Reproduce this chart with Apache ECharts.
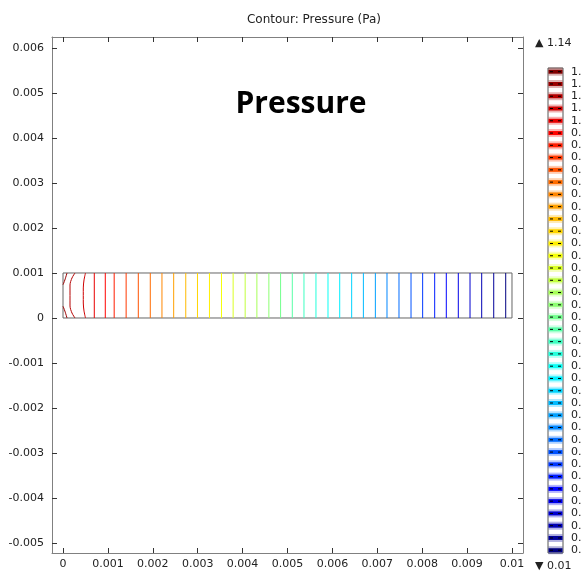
<!DOCTYPE html>
<html><head><meta charset="utf-8">
<script src="https://cdn.jsdelivr.net/npm/echarts@6/dist/echarts.min.js"></script>
<style>html,body{margin:0;padding:0;background:#fff}#c{width:581px;height:572px}</style>
</head><body><div id="c"></div>
<script>
// ---------- data ----------
const xTickValues = [0,0.001,0.002,0.003,0.004,0.005,0.006,0.007,0.008,0.009,0.01];
const xTickLabels = ['0','0.001','0.002','0.003','0.004','0.005','0.006','0.007','0.008','0.009','0.01'];
const yTickValues = [-0.005,-0.004,-0.003,-0.002,-0.001,0,0.001,0.002,0.003,0.004,0.005,0.006];
const yTickLabels = ['-0.005','-0.004','-0.003','-0.002','-0.001','0','0.001','0.002','0.003','0.004','0.005','0.006'];
// contour levels (Pa), lowest to highest
const levels = [0.024,0.052,0.081,0.109,0.137,0.165,0.194,0.222,0.250,0.278,0.307,0.335,0.363,0.391,0.420,0.448,0.476,0.504,0.533,0.561,0.589,0.617,0.646,0.674,0.702,0.730,0.759,0.787,0.815,0.843,0.872,0.900,0.928,0.956,0.985,1.013,1.041,1.069,1.098,1.126];
const pMax = 1.14, pMin = 0.01;
// x position (m) of the straight contour lines, for levels 0..35 (right to left)
const straightX = [0.009860,0.009593,0.009325,0.009065,0.008804,0.008537,0.008278,0.008010,0.007751,0.007483,0.007216,0.006957,0.006690,0.006429,0.006163,0.005902,0.005634,0.005367,0.005107,0.004846,0.004585,0.004318,0.004057,0.003789,0.003530,0.003262,0.002995,0.002734,0.002465,0.002204,0.001944,0.001677,0.001406,0.001140,0.000942,0.000697];
// curved contours near the inlet: points [x,y] in m
const level36 = [[0.000501,0.001],[0.000468,0.000844],[0.000452,0.000667],[0.000452,0.000333],[0.000468,0.000156],[0.000501,0]];
const level37 = [[0.000267,0.001],[0.000200,0.000889],[0.000156,0.000733],[0.000156,0.000267],[0.000200,0.000111],[0.000267,0]];
const level38top = [[0.000089,0.001],[0.000050,0.000870],[0.000010,0.000760],[0,0.000740]];
const level38bot = [[0,0.000260],[0.000010,0.000240],[0.000050,0.000130],[0.000089,0]];
const channel = [[0,0],[0.01,0],[0.01,0.001],[0,0.001],[0,0]];
const titleText = 'Contour: Pressure (Pa)';
const annotation = 'Pressure';

// ---------- styles ----------
function clamp(v){return Math.max(0,Math.min(1,v));}
function jet(t){
  const r=clamp(1.5-Math.abs(4*t-3)), g=clamp(1.5-Math.abs(4*t-2)), b=clamp(1.5-Math.abs(4*t-1));
  const h=v=>Math.round(v*255).toString(16).padStart(2,'0');
  return '#'+h(r)+h(g)+h(b);
}
const N = levels.length;
const colOf = i => jet(i/(N-1));
const FONT = 'DejaVu Sans';
const axisCol = '#808080';
const XMIN=-0.000245, XMAX=0.010245, YMIN=-0.005222, YMAX=0.006244;

const series = [];
series.push({type:'line',data:channel,symbol:'none',silent:true,lineStyle:{color:'#666',width:1},z:3});
straightX.forEach((x,i)=>{
  series.push({type:'line',data:[[x,0],[x,0.001]],symbol:'none',silent:true,lineStyle:{color:colOf(i),width:1}});
});
[[36,level36],[37,level37],[38,level38top],[38,level38bot]].forEach(([li,pts])=>{
  series.push({type:'line',data:pts,symbol:'none',silent:true,smooth:0.3,lineStyle:{color:colOf(li),width:1}});
});

// colour legend (graphic)
const barL=548, barR=563, barT=68, barB=553, firstY=71.7, stepY=12.27;
const graphic = [];
graphic.push({type:'rect',shape:{x:barL,y:barT,width:barR-barL,height:barB-barT},style:{fill:'#fff',stroke:'#555',lineWidth:1}});
for(let k=0;k<N;k++){
  const li = N-1-k, cy = firstY+stepY*k;
  graphic.push({type:'rect',shape:{x:barL+0.5,y:cy-4,width:barR-barL-1,height:8},style:{fill:colOf(li),opacity:0.3}});
  graphic.push({type:'rect',shape:{x:barL+0.5,y:cy-2,width:barR-barL-1,height:4},style:{fill:colOf(li)}});
  graphic.push({type:'line',shape:{x1:barL+2,y1:cy,x2:barR-1,y2:cy},style:{stroke:'#000',lineWidth:1,lineDash:[3,5]}});
  graphic.push({type:'text',x:571,y:cy,style:{text:String(levels[li]),font:'11px "'+FONT+'"',fill:'#222',textVerticalAlign:'middle'}});
}
graphic.push({type:'text',x:535,y:43,style:{text:'\u25B2 '+pMax,font:'11px "'+FONT+'"',fill:'#222',textVerticalAlign:'middle'}});
graphic.push({type:'text',x:535,y:566,style:{text:'\u25BC '+pMin,font:'11px "'+FONT+'"',fill:'#222',textVerticalAlign:'middle'}});
graphic.push({type:'text',x:301,y:104,style:{text:annotation,font:'bold 30px "Open Sans"',fill:'#000',textAlign:'center',textVerticalAlign:'middle'}});

const chart = echarts.init(document.getElementById('c'),null,{renderer:'canvas'});
const baseAxis = {type:'value',splitLine:{show:false},axisLine:{show:true,onZero:false,lineStyle:{color:axisCol,width:1}},
  axisTick:{show:true,inside:true,length:5,lineStyle:{color:'#333'}}};
chart.setOption({
  animation:false,
  title:{text:titleText,left:309,top:9,textAlign:'center',textStyle:{fontFamily:FONT,fontSize:12,fontWeight:'normal',color:'#222'}},
  grid:{left:52,top:37,width:471,height:516},
  xAxis:[
    Object.assign({},baseAxis,{position:'bottom',min:XMIN,max:XMAX,axisTick:Object.assign({},baseAxis.axisTick,{customValues:xTickValues}),
      axisLabel:{customValues:xTickValues,margin:6,fontFamily:FONT,fontSize:11,color:'#222',formatter:v=>xTickLabels[xTickValues.indexOf(v)]}}),
    Object.assign({},baseAxis,{position:'top',min:XMIN,max:XMAX,axisTick:Object.assign({},baseAxis.axisTick,{customValues:xTickValues}),axisLabel:{show:false}})
  ],
  yAxis:[
    Object.assign({},baseAxis,{position:'left',min:YMIN,max:YMAX,axisTick:Object.assign({},baseAxis.axisTick,{customValues:yTickValues}),
      axisLabel:{customValues:yTickValues,margin:8,fontFamily:FONT,fontSize:11,color:'#222',formatter:v=>yTickLabels[yTickValues.indexOf(v)]}}),
    Object.assign({},baseAxis,{position:'right',min:YMIN,max:YMAX,axisTick:Object.assign({},baseAxis.axisTick,{customValues:yTickValues}),axisLabel:{show:false}})
  ],
  series:series,
  graphic:graphic
});
</script></body></html>
